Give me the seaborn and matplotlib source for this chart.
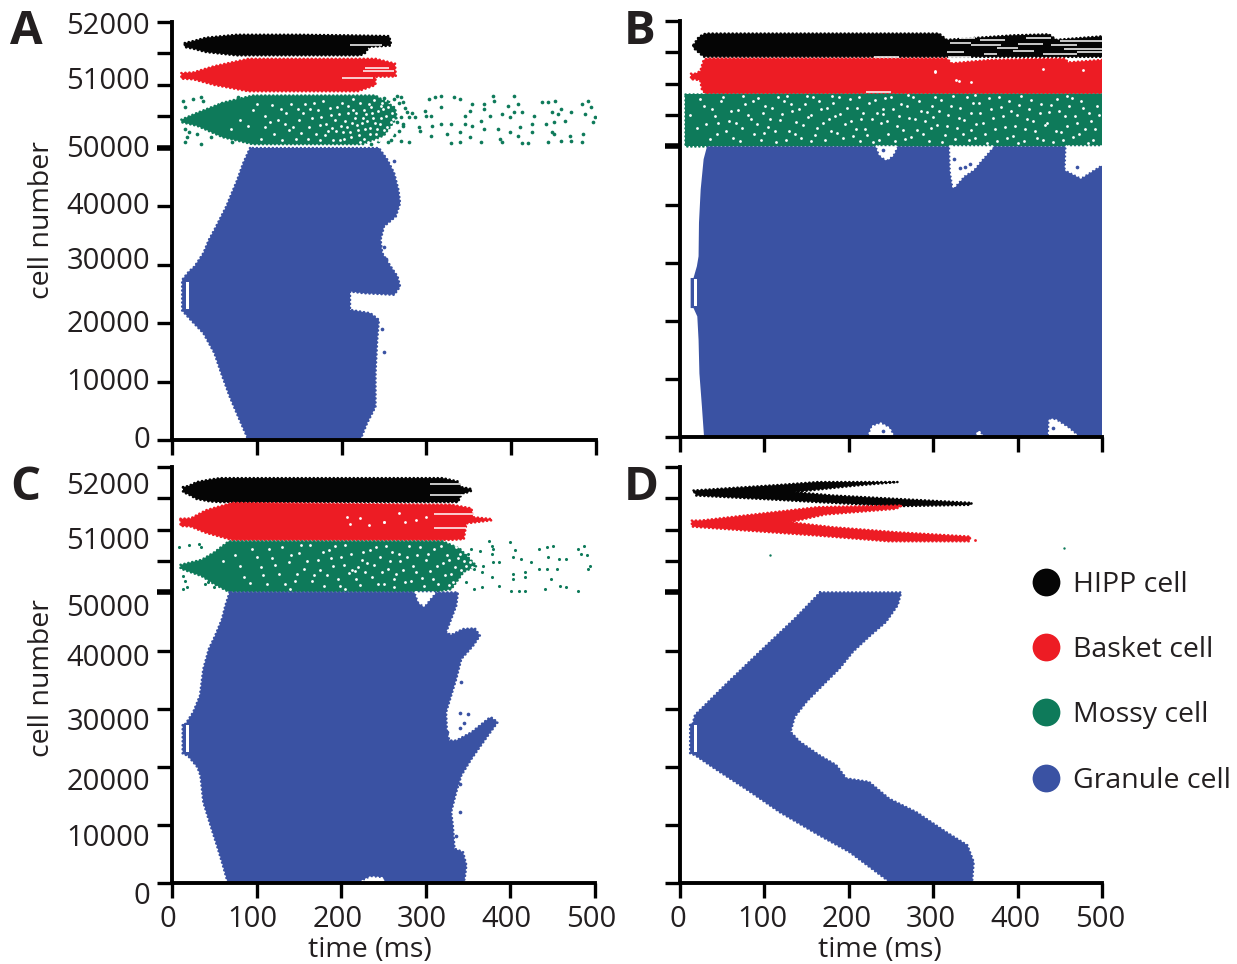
import numpy as np
import matplotlib
matplotlib.use('Agg')
import matplotlib.pyplot as plt
from matplotlib.lines import Line2D
from matplotlib.transforms import ScaledTranslation
import seaborn as sns

COLORS = {'hipp': '#050505', 'basket': '#ED1C24', 'mossy': '#0E7A5A', 'granule': '#3A52A3'}

time_ticks = [0, 100, 200, 300, 400, 500]
cell_ticks = [0, 10000, 20000, 30000, 40000, 50000, 50500, 51000, 51500, 52000]
cell_labels = [0, 10000, 20000, 30000, 40000, 50000, 51000, 52000]
legend_names = ['HIPP cell', 'Basket cell', 'Mossy cell', 'Granule cell']

# outlines of the raster clouds as (time ms, cell number)
a_hipp = [(15, 51666), (25, 51698), (40, 51751), (76, 51798), (150, 51798), (210, 51788), (256, 51777), (258, 51682),
          (258, 51625), (238, 51610), (232, 51600), (228, 51510), (222, 51470), (76, 51470), (40, 51523), (25, 51576), (15, 51602)]
a_basket = [(11, 51190), (25, 51200), (50, 51300), (90, 51416), (240, 51416), (263, 51340), (264, 51135), (240, 51130),
            (240, 51000), (232, 50960), (219, 50900), (90, 50900), (50, 51000), (25, 51090), (11, 51100)]
a_mossy = [(11, 50450), (30, 50560), (60, 50720), (95, 50833), (240, 50833), (263, 50640), (265, 50480), (250, 50200),
           (225, 50060), (95, 50060), (60, 50170), (30, 50350), (11, 50410)]
a_granule = [(92, 50000), (84, 47430), (77, 44570), (64, 40000), (50, 36000), (43.5, 34290), (37, 32000), (26.5, 29700),
             (20, 28860), (12, 27430), (12, 22170), (22, 20570), (37, 18290), (50, 14860), (58, 11430), (68, 7430),
             (78, 4000), (90, 0), (222, 0), (230, 2860), (240, 5710), (240, 11430), (242, 17140), (244, 20570), (234, 21710),
             (210, 22290), (210, 25430), (226, 25140), (262, 24860), (269, 26290), (266, 28000), (258, 29700), (248, 32000),
             (246, 34290), (250, 36570), (264, 38290), (269, 40570), (267, 42860), (262, 45700), (254, 48000), (244, 50000)]
a_streaks = [(210, 248, 51635), (228, 256, 51270), (200, 237, 51110), (225, 262, 51215)]
a_dots = [(270, 50806), (272, 50727), (277, 50568), (270, 50488), (279, 50488), (286, 50488), (298, 50594), (300, 50515),
          (305, 50515), (303, 50780), (310, 50806), (317, 50833), (317, 50647), (333, 50806), (340, 50780), (354, 50700),
          (352, 50594), (345, 50515), (368, 50700), (368, 50620), (378, 50833), (380, 50753), (403, 50820), (396, 50674),
          (408, 50700), (413, 50568), (403, 50568), (436, 50727), (443, 50727), (452, 50753), (459, 50620), (455, 50541),
          (448, 50568), (483, 50700), (490, 50753), (494, 50647), (499, 50488), (497, 50408), (487, 50541), (471, 50568),
          (464, 50435), (450, 50408), (441, 50382), (427, 50515), (424, 50382), (410, 50329), (399, 50488), (389, 50541),
          (375, 50515), (364, 50435), (354, 50355), (345, 50382), (329, 50382), (317, 50382), (307, 50355), (291, 50329),
          (293, 50276), (305, 50196), (324, 50223), (340, 50249), (352, 50170), (368, 50302), (385, 50302), (399, 50249),
          (408, 50196), (424, 50249), (448, 50249), (450, 50223), (469, 50196), (485, 50223), (272, 50355), (270, 50117),
          (279, 50090), (329, 50074), (340, 50090), (364, 50090), (387, 50143), (389, 50090), (413, 50074), (420, 50074),
          (443, 50090), (459, 50117), (471, 50117), (483, 50090),
          (262, 50780), (268, 50720), (275, 50640), (283, 50560), (265, 50420), (272, 50380), (268, 50270), (262, 50200),
          (258, 50120), (255, 50090), (250, 50800), (265, 50825), (243, 50110), (235, 50060), (255, 50740),
          (13, 50753), (25, 50780), (34, 50806), (36, 50753), (15, 50647), (46, 50620), (58, 50700), (78, 50806),
          (15, 50302), (20, 50249), (18, 50170), (29, 50223), (15, 50090), (34, 50064), (46, 50170), (71, 50090)]
a_specks = [(110, 50500), (120, 50230), (128, 50620), (133, 50380), (140, 50700), (146, 50150), (150, 50450), (138, 50290),
            (155, 50560), (162, 50330), (148, 50620), (170, 50230), (168, 50720), (176, 50490), (182, 50380), (186, 50640),
            (190, 50130), (193, 50270), (197, 50540), (200, 50720), (204, 50430), (206, 50330), (211, 50180), (214, 50600),
            (216, 50470), (219, 50280), (222, 50710), (224, 50400), (227, 50150), (229, 50540), (233, 50320), (235, 50650),
            (237, 50470), (240, 50220), (243, 50580), (245, 50380), (248, 50720), (250, 50290), (252, 50500), (255, 50650),
            (258, 50420), (260, 50560), (218, 50370), (226, 50610), (208, 50550), (202, 50250), (192, 50440), (180, 50200),
            (172, 50600), (160, 50150), (100, 50700), (90, 50350), (105, 50150), (116, 50420), (231, 50100), (244, 50130),
            (238, 50760), (213, 50770), (222, 50090), (253, 50210),
            (125, 50450), (135, 50560), (143, 50330), (152, 50240), (157, 50700), (165, 50480), (174, 50360), (178, 50740),
            (184, 50270), (188, 50520), (195, 50650), (199, 50350), (203, 50150), (207, 50660), (212, 50400), (217, 50560),
            (220, 50200), (225, 50480), (228, 50300), (232, 50700), (236, 50560), (239, 50390), (241, 50120), (246, 50480),
            (249, 50620), (251, 50180), (254, 50340), (256, 50780), (259, 50230), (261, 50460), (230, 50430), (234, 50220),
            (242, 50300), (247, 50660), (210, 50260), (198, 50120), (189, 50320), (175, 50120), (163, 50620), (130, 50130),
            (118, 50680), (95, 50600), (80, 50450), (70, 50300), (110, 50330)]
a_blue_dots = [(262, 47700), (250, 33000), (252, 31000), (248, 19000), (250, 15000)]

b_hipp = [(16, 51620), (22, 51740), (28, 51790), (32, 51800), (307, 51800), (316, 51700), (395, 51772), (437, 51788), (446, 51700),
          (500, 51756), (500, 51428), (28, 51430), (22, 51500), (16, 51570)]
b_basket = [(13, 51160), (18, 51160), (24, 51200), (28, 51380), (32, 51402), (316, 51402), (322, 51325), (367, 51380), (420, 51395),
            (456, 51400), (460, 51340), (500, 51380), (500, 50846), (30, 50846), (26, 50900), (24, 51050), (18, 51069), (13, 51069)]
b_mossy = [(6, 50836), (500, 50836), (500, 50000), (6, 50000)]
b_granule = [(32, 50000), (28, 47800), (24.5, 42600), (22.5, 36860), (22, 31100), (20, 29380), (16, 27360), (12.6, 27360), (12.6, 22180),
             (16, 22180), (20.5, 20740), (22, 16700), (23, 10940), (26, 5180), (28.5, 0), (500, 0), (500, 50000)]
b_holes = [[(233, 50000), (237, 48500), (245, 47700), (252, 48500), (257, 50000)],
           [(320, 50000), (321, 45600), (324, 42900), (336, 44930), (348, 46080), (356, 47520), (371, 50000)],
           [(458, 50000), (457, 46000), (475, 44640), (500, 46940), (500, 50000)],
           [(223, 0), (228, 1800), (238, 2300), (248, 1500), (253, 0)],
           [(350, 0), (354, 1000), (359, 0)],
           [(437, 0), (438, 3000), (445, 2900), (460, 1500), (472, 0)]]
b_streaks = [(320, 345, 51650), (345, 380, 51610), (316, 337, 51510), (355, 385, 51700), (375, 400, 51570), (400, 430, 51640),
             (410, 440, 51730), (440, 470, 51620), (450, 500, 51680), (455, 500, 51560), (470, 500, 51500), (360, 375, 51480),
             (395, 420, 51520), (330, 350, 51730), (230, 260, 51418), (220, 250, 50865), (318, 345, 51430), (430, 470, 51470)]
b_specks = [(20, 50300), (28, 50650), (35, 50120), (42, 50480), (48, 50720), (55, 50240), (60, 50560), (66, 50380), (71, 50090), (77, 50680),
            (84, 50440), (88, 50190), (93, 50770), (98, 50530), (104, 50310), (109, 50620), (114, 50070), (118, 50420), (123, 50720), (129, 50250),
            (133, 50560), (138, 50390), (143, 50140), (148, 50670), (152, 50470), (158, 50780), (162, 50290), (167, 50590), (172, 50100), (176, 50430),
            (181, 50700), (186, 50220), (190, 50510), (196, 50350), (201, 50750), (205, 50160), (210, 50620), (215, 50440), (219, 50280), (224, 50700),
            (229, 50070), (233, 50530), (238, 50380), (243, 50770), (247, 50200), (252, 50590), (257, 50320), (262, 50680), (266, 50120), (271, 50460),
            (276, 50790), (281, 50260), (285, 50560), (290, 50400), (295, 50090), (299, 50640), (304, 50340), (309, 50740), (314, 50180), (318, 50500),
            (323, 50800), (328, 50290), (332, 50620), (337, 50420), (342, 50110), (347, 50700), (351, 50360), (356, 50540), (361, 50200), (366, 50770),
            (371, 50450), (375, 50080), (380, 50630), (385, 50310), (390, 50720), (394, 50170), (399, 50500), (404, 50800), (409, 50270), (413, 50600),
            (418, 50400), (423, 50130), (428, 50680), (432, 50340), (437, 50550), (442, 50070), (447, 50760), (451, 50230), (456, 50480), (461, 50640),
            (466, 50150), (470, 50380), (475, 50720), (480, 50280), (485, 50530), (489, 50100), (494, 50650), (45, 50370), (100, 50210), (155, 50090),
            (212, 50780), (300, 50470), (345, 50260), (400, 50050), (458, 50810), (75, 50810), (127, 50800), (180, 50810), (240, 50520), (350, 50820), (270, 50820),
            (12, 50500), (24, 50750), (31, 50350), (38, 50600), (44, 50200), (51, 50790), (58, 50400), (63, 50130), (69, 50580), (74, 50290),
            (81, 50500), (87, 50720), (91, 50350), (96, 50100), (101, 50650), (107, 50430), (112, 50240), (116, 50780), (121, 50520), (126, 50110),
            (131, 50680), (136, 50200), (141, 50600), (146, 50340), (150, 50810), (155, 50500), (160, 50180), (165, 50720), (170, 50370), (174, 50620),
            (179, 50250), (184, 50480), (188, 50780), (193, 50130), (198, 50620), (203, 50400), (208, 50280), (213, 50080), (217, 50540), (222, 50180),
            (227, 50430), (231, 50740), (236, 50110), (241, 50600), (245, 50400), (250, 50780), (255, 50090), (260, 50490), (264, 50260), (269, 50640),
            (274, 50150), (279, 50440), (283, 50720), (288, 50190), (293, 50550), (297, 50300), (302, 50780), (307, 50560), (311, 50070), (316, 50320),
            (321, 50650), (326, 50120), (330, 50450), (335, 50200), (340, 50780), (345, 50530), (349, 50130), (354, 50700), (359, 50380), (364, 50060),
            (369, 50600), (373, 50270), (378, 50790), (383, 50480), (388, 50140), (392, 50560), (397, 50320), (402, 50660), (407, 50090), (411, 50430),
            (416, 50740), (421, 50250), (426, 50530), (430, 50110), (435, 50370), (440, 50660), (445, 50250), (449, 50560), (454, 50100), (459, 50320),
            (464, 50770), (468, 50490), (473, 50200), (478, 50620), (483, 50050), (487, 50400), (492, 50280), (497, 50500)]
b_red_specks = [(302, 51190), (327, 51060), (430, 51230), (478, 51215), (330, 51040), (345, 51030), (302, 51200)]
b_blue_dots = [(325, 47800), (338, 46500), (344, 47000), (332, 46200), (470, 46500), (240, 49300), (240, 1000), (442, 1500)]

c_hipp = [(13, 51680), (20, 51700), (29, 51760), (45, 51800), (57, 51823), (320, 51823), (338, 51770), (342, 51680), (354, 51650), (354, 51620),
          (342, 51560), (338, 51440), (57, 51440), (45, 51450), (29, 51490), (20, 51560), (13, 51600)]
c_basket = [(10, 51175), (22, 51180), (40, 51310), (71, 51428), (330, 51400), (354, 51340), (356, 51200), (378, 51170), (378, 51150),
            (348, 51100), (345, 50850), (330, 50837), (71, 50837), (40, 50950), (22, 51050), (10, 51060)]
c_mossy = [(10, 50440), (35, 50520), (50, 50640), (67, 50815), (320, 50815), (340, 50700), (360, 50420), (345, 50330), (330, 50050),
           (310, 50010), (67, 50010), (50, 50130), (35, 50260), (10, 50380)]
c_granule = [(68, 50000), (63, 47700), (59, 45400), (51, 42550), (43.5, 40260), (37, 36820), (33, 32240), (25, 29380), (16, 27370), (12.6, 27370),
             (12.6, 22220), (18.6, 21930), (30, 19930), (33.6, 18500), (37, 13900), (45.5, 9900), (53, 6470), (59, 3600), (66, 0),
             (344, 0), (346, 740), (348, 3040), (344, 5330), (334, 5900), (332, 9900), (330, 12200), (336, 15630), (342, 18500), (354, 21360),
             (373.5, 25370), (385, 27660), (377, 28520), (373.5, 28230), (354, 25940), (336, 24510), (328, 24510), (325, 25940), (324, 29380),
             (330, 32240), (336, 35100), (342, 38540), (356, 40830), (364, 42550), (358, 43810), (344, 43700), (330, 42670), (324, 43120),
             (330, 45400), (336, 47700), (338, 50000)]
c_holes = [[(288, 50000), (292, 48300), (298, 47700), (303, 48600), (311, 50000)],
           [(221, 0), (235, 1000), (250, 800), (249, 0)]]
c_streaks = [(305, 345, 51730), (305, 350, 51560), (310, 360, 51250), (310, 348, 51020)]
c_dots = [(375, 50815), (378, 50746), (380, 50693), (378, 50613), (399, 50800), (406, 50677), (403, 50560), (413, 50533), (424, 50480), (434, 50693),
          (443, 50720), (450, 50746), (445, 50560), (457, 50533), (466, 50533), (480, 50693), (487, 50746), (483, 50613), (490, 50590), (494, 50426),
          (492, 50373), (455, 50373), (443, 50373), (434, 50373), (417, 50320), (403, 50293), (403, 50213), (417, 50240), (448, 50213), (459, 50107),
          (466, 50080), (480, 50027), (441, 50053), (417, 50027), (410, 50027), (401, 50027), (387, 50107), (378, 50240), (366, 50320), (380, 50480),
          (387, 50480), (368, 50426), (354, 50693), (364, 50666), (350, 50613), (343, 50560), (357, 50373), (347, 50160), (357, 50053), (366, 50080),
          (8, 50720), (20, 50757), (32, 50773), (34, 50720), (13, 50267), (15, 50187), (13, 50053), (18, 50080), (39, 50133), (43, 50160), (50, 50080)]
c_specks = [(75, 50600), (85, 50250), (95, 50700), (105, 50400), (112, 50130), (118, 50550), (126, 50300), (130, 50720), (138, 50480), (145, 50180),
            (150, 50630), (156, 50370), (163, 50750), (168, 50270), (172, 50520), (180, 50110), (185, 50680), (190, 50420), (196, 50220), (200, 50560),
            (205, 50760), (209, 50310), (213, 50360), (216, 50340), (220, 50400), (222, 50120), (226, 50640), (231, 50470), (236, 50240), (241, 50730),
            (246, 50560), (250, 50130), (255, 50380), (260, 50650), (265, 50290), (270, 50500), (275, 50160), (280, 50740), (285, 50420), (290, 50600),
            (295, 50230), (300, 50510), (305, 50340), (310, 50690), (315, 50130), (320, 50470), (325, 50600), (330, 50290), (335, 50400), (340, 50620),
            (345, 50500), (328, 50120), (262, 50090), (205, 50050), (140, 50050), (60, 50500),
            (80, 50420), (92, 50150), (100, 50560), (108, 50280), (115, 50700), (122, 50430), (134, 50140), (141, 50600), (148, 50300), (153, 50750),
            (160, 50500), (166, 50180), (175, 50350), (178, 50640), (183, 50270), (188, 50550), (193, 50740), (198, 50110), (203, 50430), (212, 50620),
            (218, 50220), (224, 50520), (228, 50320), (234, 50680), (239, 50430), (244, 50140), (248, 50330), (253, 50740), (258, 50500), (263, 50210),
            (268, 50620), (273, 50350), (278, 50560), (283, 50180), (288, 50330), (293, 50720), (298, 50110), (303, 50620), (308, 50210), (313, 50420),
            (318, 50740), (323, 50280), (327, 50520), (332, 50170), (338, 50550), (342, 50350), (348, 50420), (352, 50480), (355, 50400), (336, 50720)]
c_red_specks = [(207, 51200), (222, 51190), (250, 51120), (250, 51130), (275, 51120), (233, 51070), (268, 51260), (210, 51090), (288, 51150), (300, 51210)]
c_blue_dots = [(342, 34600), (340, 29300), (350, 29000), (345, 27500), (325, 26000), (340, 26600), (340, 17000), (340, 12200), (336, 8100), (330, 6000)]

d_hipp = [(16, 51625), (120, 51716), (163, 51760), (258, 51760), (209, 51705), (135, 51600), (181, 51546), (256, 51492), (346, 51428),
          (344, 51396), (256, 51375), (163, 51440), (116, 51476), (19, 51545)]
d_basket = [(14, 51145), (25, 51146), (163, 51360), (263, 51386), (256, 51333), (172, 51242), (130, 51120), (181, 51040), (256, 50960),
            (344, 50890), (343, 50815), (247, 50815), (163, 50906), (23, 51040), (14, 51050)]
d_granule = [(166, 50000), (136, 45500), (94.5, 39800), (53, 34000), (29.5, 30600), (17.7, 28900), (15, 27400), (12, 27400), (12, 22300),
             (17.7, 22000), (41, 19700), (83, 15700), (118, 12200), (165, 8200), (201, 5300), (250, 0), (346, 0), (348, 3600), (340.5, 6500),
             (315, 8800), (280, 12200), (248, 14500), (224, 17400), (197, 18000), (185, 20300), (165, 22000), (142, 24300), (131, 26000),
             (136, 28600), (150, 31200), (169, 34000), (189, 36900), (205, 39800), (226, 42650), (244, 44900), (258, 47800), (262, 50000)]
d_dots = [(107, 50597), (455, 50703)]
d_red_dots = [(349, 50840)]

# white bar left of the stimulated cells, (t0, t1, cell0, cell1)
stim_gap = (16, 20, 22500, 27100)


def forward(y):
    # broken cell axis: granule block squeezed, small populations stretched
    y = np.asarray(y, dtype=float)
    return np.where(y <= 50000, y * 292 / 50000, 292 + (y - 50000) * 63 / 1000)


def inverse(v):
    v = np.asarray(v, dtype=float)
    return np.where(v <= 292, v * 50000 / 292, 50000 + (v - 292) * 1000 / 63)


def poly(ax, pts, color, zorder=2, rough=True):
    t, c = zip(*pts)
    patch = ax.fill(t, c, color=color, lw=0, zorder=zorder)[0]
    if rough:
        # dotted round edge so the outline frays like a raster of spikes
        edge = ax.fill(t, c, facecolor='none', edgecolor=color, lw=1.8, zorder=zorder)[0]
        edge.set_linestyle((0, (0.1, 1.5)))
        edge.set_capstyle('round')
    return patch


def dots(ax, pts, color, size=7, zorder=3):
    t, c = zip(*pts)
    sns.scatterplot(x=list(t), y=list(c), color=color, s=size, linewidth=0, ax=ax, zorder=zorder, legend=False)


def streaks(ax, rows):
    for t0, t1, c in rows:
        ax.hlines(c, t0, t1, colors='white', lw=1.1, zorder=3)


def style_axes(ax, xlabels, shift):
    ax.set_yscale('function', functions=(forward, inverse))
    ax.set_xlim(0, 500)
    ax.set_ylim(0, 52000)
    ax.set_xticks(time_ticks)
    ax.set_yticks(cell_ticks)
    ax.set_yticklabels([])
    if xlabels:
        ax.set_xticklabels(time_ticks)
    else:
        ax.set_xticklabels([])
    ax.tick_params(axis='both', length=11, width=2.4, labelsize=21, pad=5, color='black', labelcolor='#231F20')
    ax.get_yticklines()[10].set_markeredgewidth(4)
    offset = ScaledTranslation(shift / 100, 0, ax.figure.dpi_scale_trans)
    for lab in ax.get_xticklabels():
        lab.set_transform(lab.get_transform() + offset)
    for s in ['left', 'bottom']:
        ax.spines[s].set_linewidth(2.8)
        ax.spines[s].set_color('black')
        ax.spines[s].set_zorder(6)
    sns.despine(ax=ax)
    ax.set_xlabel('')
    ax.set_ylabel('')
    ax.patch.set_alpha(0)


def place(fig, left, right, top, bottom):
    W, H = 1237, 964
    return fig.add_axes([left / W, 1 - bottom / H, (right - left) / W, (bottom - top) / H])


def cell_tick_labels(ax, offsets):
    for lab, off in zip(cell_labels, offsets):
        ax.annotate(str(lab), xy=(0, lab), xycoords=ax.get_yaxis_transform(), xytext=(-22, off - 3), textcoords='offset pixels',
                    ha='right', va='center', fontsize=21, color='#231F20')


def stim(ax):
    t0, t1, c0, c1 = stim_gap
    ax.fill([t0, t1, t1, t0], [c0, c0, c1, c1], color='white', lw=0, zorder=3)


sns.set_theme(style='ticks')
plt.rcParams['font.family'] = ['Open Sans', 'DejaVu Sans']

fig = plt.figure(figsize=(12.37, 9.64), dpi=100, facecolor='white')
ax_a = place(fig, 172, 596, 22, 440)
ax_b = place(fig, 680, 1102, 21, 437)
ax_c = place(fig, 172, 595, 467, 883)
ax_d = place(fig, 680, 1102, 467, 883)

# panel A
poly(ax_a, a_hipp, COLORS['hipp'])
poly(ax_a, a_basket, COLORS['basket'])
poly(ax_a, a_mossy, COLORS['mossy'])
poly(ax_a, a_granule, COLORS['granule'])
dots(ax_a, a_dots, COLORS['mossy'])
dots(ax_a, a_specks, 'white', size=4)
dots(ax_a, a_blue_dots, COLORS['granule'])
streaks(ax_a, a_streaks)
stim(ax_a)

# panel B
poly(ax_b, b_hipp, COLORS['hipp'])
poly(ax_b, b_basket, COLORS['basket'])
poly(ax_b, b_mossy, COLORS['mossy'])
poly(ax_b, b_granule, COLORS['granule'], zorder=2.5, rough=False)
for hole in b_holes:
    poly(ax_b, hole, 'white', zorder=2.6)
dots(ax_b, b_specks, 'white', size=4)
dots(ax_b, b_red_specks, 'white', size=4)
dots(ax_b, b_blue_dots, COLORS['granule'])
streaks(ax_b, b_streaks)
stim(ax_b)

# panel C
poly(ax_c, c_hipp, COLORS['hipp'])
poly(ax_c, c_basket, COLORS['basket'])
poly(ax_c, c_mossy, COLORS['mossy'])
poly(ax_c, c_granule, COLORS['granule'], zorder=2.5)
for hole in c_holes:
    poly(ax_c, hole, 'white', zorder=2.6)
dots(ax_c, c_dots, COLORS['mossy'], size=5)
dots(ax_c, c_specks, 'white', size=4)
dots(ax_c, c_red_specks, 'white', size=4)
dots(ax_c, c_blue_dots, COLORS['granule'])
streaks(ax_c, c_streaks)
stim(ax_c)

# panel D
poly(ax_d, d_hipp, COLORS['hipp'])
poly(ax_d, d_basket, COLORS['basket'])
poly(ax_d, d_granule, COLORS['granule'])
dots(ax_d, d_dots, COLORS['mossy'], size=3)
dots(ax_d, d_red_dots, COLORS['basket'], size=4)
stim(ax_d)

style_axes(ax_a, False, 0)
style_axes(ax_b, False, 0)
style_axes(ax_c, True, -4)
style_axes(ax_d, True, -2)

cell_tick_labels(ax_a, [2, 2, 2, 6, 3, 1, 6, -2])
cell_tick_labels(ax_c, [-10, -11, -13, -11, -5, -13, -9, -16])

for ax, x in [(ax_c, (370 - 172) / 423), (ax_d, (880 - 680) / 422)]:
    ax.set_xlabel('time (ms)', fontsize=20.5, color='#231F20', va='center')
    ax.xaxis.set_label_coords(x, -(950 - 883) / 416)
fig.text(42 / 1237, 1 - 220 / 964, 'cell number', rotation=90, ha='center', va='center', fontsize=20.5, color='#231F20')
fig.text(42 / 1237, 1 - 678 / 964, 'cell number', rotation=90, ha='center', va='center', fontsize=20.5, color='#231F20')

for letter, x, y in [('A', 26, 32), ('B', 640, 32), ('C', 25, 488), ('D', 641, 488)]:
    fig.text(x / 1237, 1 - y / 964, letter, ha='center', va='center', fontsize=34, fontweight='bold', color='#231F20')

handles = [Line2D([], [], linestyle='', marker='o', markersize=20, markeredgewidth=0, color=COLORS[k])
           for k in ['hipp', 'basket', 'mossy', 'granule']]
ax_d.legend(handles, legend_names, loc='upper left', bbox_to_anchor=(1006 / 1237, 1 - 545 / 964), bbox_transform=fig.transFigure,
            frameon=False, fontsize=20.5, labelspacing=1.31, handlelength=1, handletextpad=0.45, labelcolor='#231F20')

fig.savefig('out.png', dpi=100)
